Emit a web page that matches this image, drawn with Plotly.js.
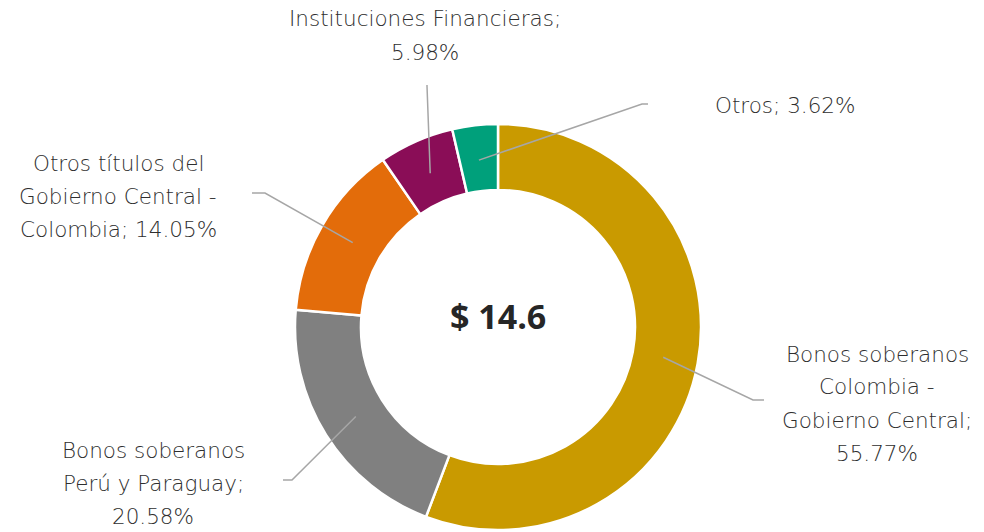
<!DOCTYPE html>
<html>
<head>
<meta charset="utf-8">
<script src="https://cdn.plot.ly/plotly-3.0.1.min.js"></script>
<style>html,body{margin:0;padding:0;background:#fff;}#chart{width:984px;height:532px;}</style>
</head>
<body>
<div id="chart"></div>
<script>
// ---- data ----
var categories = [
  "Bonos soberanos<br>Colombia -<br>Gobierno Central",
  "Bonos soberanos<br>Perú y Paraguay",
  "Otros títulos del<br>Gobierno Central -<br>Colombia",
  "Instituciones Financieras",
  "Otros"
];
var values = [55.77, 20.58, 14.05, 5.98, 3.62];
var colors = ["#C99A00", "#808080", "#E36C0A", "#8A0D57", "#00A07B"];
// how each label joins the percentage: same line or new line
var joiners = [";<br>", ";<br>", "; ", ";<br>", "; "];
var centerLabel = "$ 14.6";

// ---- layout helpers (pixel -> paper) ----
var W = 984, H = 532;
function px(x){ return x / W; }
function py(y){ return 1 - y / H; }
var cx = 498, cy = 327, R = 203;

// label anchor (centre x, first-line y) and leader elbow / outer end, in px
var labelPos = [
  {x: 877, y: 354},
  {x: 153, y: 450},
  {x: 118, y: 163},
  {x: 425, y: 19},
  {x: 785, y: 105}
];
var leaderOuter = [
  [[764, 400], [753, 400]],
  [[283, 480], [292, 480]],
  [[252, 193], [265, 193]],
  [[427, 85], [427, 86]],
  [[648, 104], [642, 104]]
];
var lineStep = 33;
var anchorR = 168;

var total = values.reduce(function(a,b){return a+b;}, 0);
var annotations = [];
var shapes = [];
var cum = 0;
values.forEach(function(v, i){
  var mid = (cum + v/2) / total;
  cum += v;
  var ang = mid * 2 * Math.PI;
  var ix = cx + anchorR * Math.sin(ang);
  var iy = cy - anchorR * Math.cos(ang);
  var o = leaderOuter[i];
  shapes.push({
    type: "path", xref: "paper", yref: "paper",
    path: "M " + px(o[0][0]) + "," + py(o[0][1]) + " L " + px(o[1][0]) + "," + py(o[1][1]) + " L " + px(ix) + "," + py(iy),
    line: {color: "#A6A6A6", width: 1.5}
  });
  var text = categories[i] + joiners[i] + v.toFixed(2) + "%";
  text.split("<br>").forEach(function(line, k){
    annotations.push({
      xref: "paper", yref: "paper",
      x: px(labelPos[i].x), y: py(labelPos[i].y + k * lineStep),
      xanchor: "center", yanchor: "middle",
      text: line, showarrow: false,
      font: {family: "'DejaVu Sans', sans-serif", size: 21.5, color: "#2E2E2E", weight: 200}
    });
  });
});

annotations.push({
  xref: "paper", yref: "paper",
  x: px(cx), y: py(316), xanchor: "center", yanchor: "middle",
  text: "<b>" + centerLabel + "</b>", showarrow: false,
  font: {family: "'Open Sans', 'Liberation Sans', sans-serif", size: 34, color: "#262626"}
});

var trace = {
  type: "pie",
  labels: categories,
  values: values,
  hole: 0.675,
  sort: false,
  direction: "clockwise",
  rotation: 0,
  textinfo: "none",
  hoverinfo: "label+percent",
  marker: {colors: colors, line: {color: "#FFFFFF", width: 2.5}},
  domain: {x: [px(cx - R), px(cx + R)], y: [py(cy + R), py(cy - R)]},
  automargin: false
};

var layout = {
  width: W, height: H,
  margin: {l: 0, r: 0, t: 0, b: 0},
  paper_bgcolor: "#FFFFFF",
  showlegend: false,
  annotations: annotations,
  shapes: shapes
};

Plotly.newPlot("chart", [trace], layout, {displayModeBar: false, staticPlot: true});
</script>
</body>
</html>
